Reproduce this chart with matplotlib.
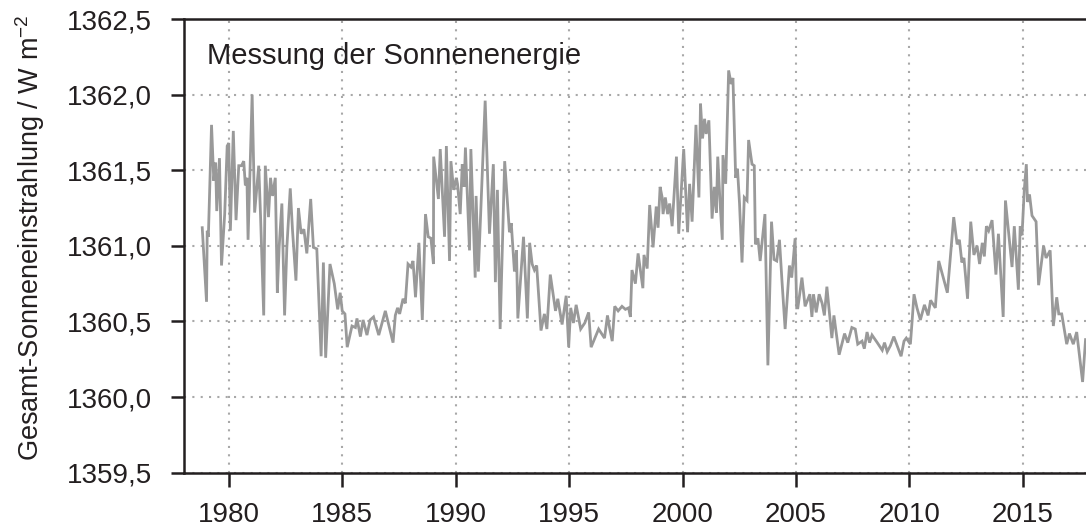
import matplotlib
matplotlib.use("Agg")
import matplotlib.pyplot as plt
from matplotlib.ticker import FixedLocator, FuncFormatter

plt.rcParams['font.family'] = ['Liberation Sans', 'DejaVu Sans']
plt.rcParams['mathtext.fontset'] = 'custom'
plt.rcParams['mathtext.rm'] = 'Liberation Sans'
plt.rcParams['mathtext.it'] = 'Liberation Sans'

# ---- data ----
years = [
    1978.83, 1979.02, 1979.05, 1979.10, 1979.24, 1979.34, 1979.42, 1979.47, 1979.59, 1979.68,
    1979.82, 1979.93, 1980.00, 1980.07, 1980.20, 1980.32, 1980.44, 1980.56, 1980.66, 1980.73,
    1980.80, 1980.85, 1981.03, 1981.14, 1981.32, 1981.40, 1981.54, 1981.61, 1981.75, 1981.84,
    1981.93, 1982.05, 1982.14, 1982.22, 1982.34, 1982.46, 1982.56, 1982.71, 1982.81, 1982.96,
    1983.07, 1983.19, 1983.31, 1983.44, 1983.61, 1983.73, 1983.88, 1984.07, 1984.17, 1984.27,
    1984.46, 1984.65, 1984.80, 1984.91, 1985.00, 1985.12, 1985.22,
    1985.43, 1985.58, 1985.65, 1985.80, 1985.92, 1986.09, 1986.23, 1986.38, 1986.61, 1986.90,
    1987.24, 1987.34, 1987.44, 1987.53, 1987.68, 1987.78, 1987.90, 1988.03, 1988.12, 1988.23,
    1988.38, 1988.53, 1988.67, 1988.79, 1988.91, 1989.02, 1989.03, 1989.24, 1989.32, 1989.51,
    1989.59, 1989.73, 1989.79, 1989.91, 1990.03, 1990.08, 1990.20, 1990.29, 1990.37, 1990.43,
    1990.61, 1990.67, 1990.86, 1990.90, 1991.00, 1991.30, 1991.49, 1991.66, 1991.75, 1991.84,
    1991.96, 1992.16,
    1992.37, 1992.45, 1992.59, 1992.68, 1992.74, 1992.99, 1993.16, 1993.26, 1993.37, 1993.47,
    1993.57, 1993.76, 1993.91, 1994.02, 1994.17, 1994.40, 1994.50, 1994.69, 1994.87, 1994.98,
    1995.07, 1995.19, 1995.31, 1995.51, 1995.69, 1995.86, 1995.97, 1996.30, 1996.56, 1996.69,
    1996.78, 1996.90, 1997.01, 1997.16, 1997.33, 1997.48, 1997.62, 1997.70, 1997.77, 1997.92,
    1998.04, 1998.25, 1998.30, 1998.44, 1998.55, 1998.70, 1998.84, 1998.92, 1999.01, 1999.10,
    1999.14, 1999.24, 1999.34, 1999.43, 1999.54, 1999.73, 1999.83, 2000.05, 2000.22, 2000.31,
    2000.42, 2000.59, 2000.72, 2000.79, 2000.88, 2000.97, 2001.04, 2001.16, 2001.30, 2001.40,
    2001.49, 2001.55, 2001.64, 2001.75, 2001.78, 2001.90, 2002.03, 2002.14, 2002.22, 2002.34,
    2002.42, 2002.51, 2002.62, 2002.72, 2002.84, 2002.91, 2003.06, 2003.16, 2003.21, 2003.32,
    2003.42, 2003.63, 2003.76, 2003.92, 2004.03, 2004.15, 2004.27, 2004.38, 2004.52, 2004.71,
    2004.81, 2004.96, 2005.03, 2005.08, 2005.26, 2005.40,
    2005.61, 2005.70, 2005.77, 2005.89, 2006.02, 2006.15, 2006.25, 2006.36, 2006.47, 2006.58,
    2006.67, 2006.90, 2007.14, 2007.28, 2007.46, 2007.61, 2007.72, 2007.91, 2008.01, 2008.13,
    2008.24, 2008.35, 2008.58, 2008.80, 2008.90, 2009.02, 2009.16, 2009.31, 2009.46, 2009.63,
    2009.76, 2009.86, 2009.95, 2010.04, 2010.11, 2010.20, 2010.33, 2010.48, 2010.66, 2010.82,
    2010.93, 2011.14, 2011.29, 2011.67, 2011.95, 2012.10, 2012.20, 2012.31, 2012.40, 2012.56,
    2012.70, 2012.84,
    2012.98, 2013.09, 2013.21, 2013.30, 2013.39, 2013.49, 2013.64, 2013.81, 2013.92, 2014.13,
    2014.23, 2014.52, 2014.62, 2014.80, 2014.88, 2014.96, 2015.06, 2015.15, 2015.20, 2015.29,
    2015.40, 2015.58, 2015.69, 2015.91, 2016.02, 2016.20, 2016.34, 2016.49, 2016.58, 2016.71,
    2016.93, 2017.05, 2017.22, 2017.37, 2017.63, 2017.76,
]
tsi = [
    1361.12, 1360.63, 1361.10, 1361.06, 1361.80, 1361.43, 1361.55, 1361.23, 1361.58, 1360.87,
    1361.21, 1361.66, 1361.68, 1361.10, 1361.76, 1361.17, 1361.53, 1361.53, 1361.56, 1361.40,
    1361.45, 1361.04, 1362.00, 1361.22, 1361.53, 1361.20, 1360.54, 1361.53, 1361.19, 1361.45,
    1361.33, 1361.45, 1360.69, 1360.99, 1361.28, 1360.54, 1360.99, 1361.38, 1361.10, 1360.77,
    1361.25, 1361.08, 1361.11, 1360.95, 1361.31, 1360.99, 1360.98, 1360.27, 1360.89, 1360.26,
    1360.88, 1360.75, 1360.58, 1360.69, 1360.57, 1360.55, 1360.33,
    1360.47, 1360.46, 1360.52, 1360.40, 1360.51, 1360.41, 1360.51, 1360.53, 1360.41, 1360.57,
    1360.36, 1360.54, 1360.59, 1360.55, 1360.65, 1360.62, 1360.88, 1360.86, 1360.90, 1360.66,
    1361.02, 1360.51, 1361.21, 1361.06, 1361.05, 1360.88, 1361.59, 1361.31, 1361.64, 1361.06,
    1361.66, 1360.90, 1361.56, 1361.37, 1361.45, 1361.41, 1361.21, 1361.54, 1361.39, 1361.65,
    1360.97, 1361.64, 1360.79, 1361.33, 1360.83, 1361.96, 1361.08, 1361.54, 1360.76, 1361.37,
    1360.45, 1361.56,
    1361.09, 1361.15, 1360.83, 1360.97, 1360.52, 1361.06, 1360.52, 1361.02, 1360.88, 1360.84,
    1360.87, 1360.44, 1360.55, 1360.45, 1360.81, 1360.57, 1360.65, 1360.48, 1360.67, 1360.33,
    1360.59, 1360.49, 1360.61, 1360.45, 1360.49, 1360.56, 1360.33, 1360.45, 1360.39, 1360.54,
    1360.46, 1360.37, 1360.60, 1360.57, 1360.60, 1360.58, 1360.59, 1360.53, 1360.84, 1360.75,
    1360.95, 1360.72, 1360.94, 1360.85, 1361.27, 1360.99, 1361.26, 1361.12, 1361.39, 1361.32,
    1361.21, 1361.32, 1361.21, 1361.28, 1361.13, 1361.59, 1361.08, 1361.64, 1361.09, 1361.41,
    1361.16, 1361.80, 1361.32, 1361.94, 1361.71, 1361.84, 1361.74, 1361.83, 1361.18, 1361.39,
    1361.22, 1361.59, 1361.32, 1361.04, 1361.60, 1361.41, 1362.16, 1362.07, 1362.11, 1361.45,
    1361.51, 1361.28, 1360.89, 1361.32, 1361.30, 1361.70, 1361.54, 1361.53, 1361.01, 1361.05,
    1360.90, 1361.21, 1360.21, 1361.16, 1360.91, 1360.90, 1361.04, 1360.77, 1360.45, 1360.87,
    1360.79, 1361.05, 1360.59, 1360.59, 1360.79, 1360.60,
    1360.68, 1360.53, 1360.68, 1360.56, 1360.68, 1360.62, 1360.54, 1360.73, 1360.56, 1360.39,
    1360.54, 1360.28, 1360.42, 1360.36, 1360.46, 1360.45, 1360.35, 1360.37, 1360.32, 1360.43,
    1360.36, 1360.41, 1360.36, 1360.31, 1360.36, 1360.30, 1360.34, 1360.40, 1360.34, 1360.27,
    1360.37, 1360.39, 1360.37, 1360.35, 1360.49, 1360.68, 1360.59, 1360.51, 1360.61, 1360.54,
    1360.64, 1360.59, 1360.90, 1360.69, 1361.19, 1361.01, 1361.04, 1360.89, 1360.92, 1360.65,
    1361.16, 1360.94,
    1361.00, 1360.88, 1361.02, 1360.93, 1361.13, 1361.10, 1361.17, 1360.81, 1361.08, 1360.53,
    1361.30, 1360.86, 1361.13, 1360.71, 1361.13, 1361.07, 1361.37, 1361.54, 1361.29, 1361.34,
    1361.20, 1361.16, 1360.74, 1361.00, 1360.92, 1360.97, 1360.47, 1360.66, 1360.55, 1360.55,
    1360.35, 1360.42, 1360.35, 1360.43, 1360.10, 1360.38,
]

x_ticks = [1980, 1985, 1990, 1995, 2000, 2005, 2010, 2015]
y_ticks = [1359.5, 1360.0, 1360.5, 1361.0, 1361.5, 1362.0, 1362.5]
title_text = "Messung der Sonnenenergie"
y_label = r"Gesamt-Sonneneinstrahlung / W m$^{\mathregular{-2}}$"

# ---- figure ----
W, H = 1086, 529
fig = plt.figure(figsize=(W / 100, H / 100), dpi=100)
ax = fig.add_axes([184.3 / W, 56.3 / H, (W - 184.3) / W, (472.7 - 19.0) / H])

ax.plot(years, tsi, color='#999999', lw=2.0, solid_joinstyle='miter', zorder=3)

ax.set_xlim(1978.04, 2017.78)
ax.set_ylim(1359.5, 1362.5)

ax.xaxis.set_major_locator(FixedLocator(x_ticks))
ax.yaxis.set_major_locator(FixedLocator(y_ticks))
ax.yaxis.set_major_formatter(FuncFormatter(lambda v, p: f"{v:.1f}".replace('.', ',')))

ax.grid(True, which='major', linestyle=(0, (1, 3)), color='#a8a8a8', lw=1.5, zorder=1)

for s in ['left', 'bottom', 'top']:
    ax.spines[s].set_linewidth(1.8)
    ax.spines[s].set_color('#231f20')
ax.spines['right'].set_visible(False)

ax.tick_params(axis='y', direction='out', length=9.2, width=1.8, pad=14,
               labelsize=20, colors='#231f20')
ax.tick_params(axis='x', direction='out', length=10, width=1.8, pad=11,
               labelsize=20, colors='#231f20')

ax.text((207 - 184.3) / (W - 184.3), (472.7 - 64) / (472.7 - 19.0), title_text,
        transform=ax.transAxes, ha='left', va='baseline', fontsize=21, color='#231f20')

fig.text(30 / W, (H - 238) / H, y_label, rotation=90, ha='center', va='center',
         fontsize=19.5, color='#231f20')

fig.savefig('out.png', dpi=100)
